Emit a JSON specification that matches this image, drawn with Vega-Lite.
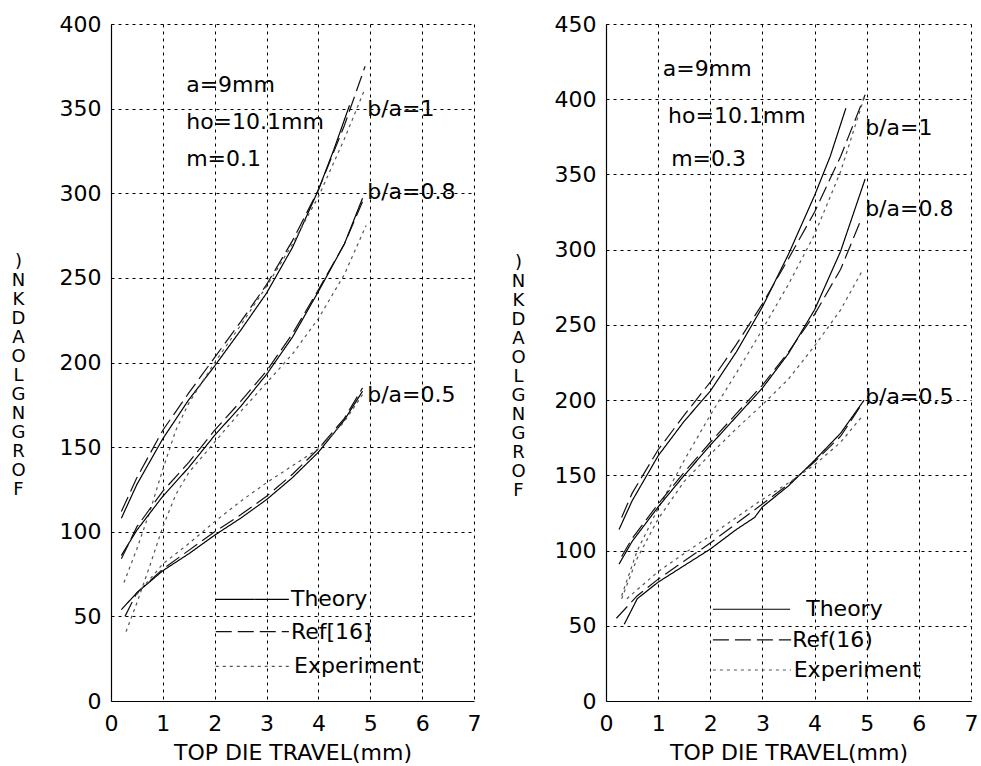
{
  "$schema": "https://vega.github.io/schema/vega-lite/v6.json",
  "padding": {"left": 10, "top": 13, "right": 5, "bottom": 5},
  "background": "white",
  "spacing": 29,
  "config": {
    "view": {"stroke": null},
    "font": "DejaVu Sans",
    "axis": {
      "domainColor": "black", "domainWidth": 1.2,
      "gridColor": "black", "gridDash": [3, 4], "gridOpacity": 1, "gridWidth": 1,
      "ticks": false, "labelColor": "black", "titleColor": "black",
      "labelFont": "DejaVu Sans", "titleFont": "DejaVu Sans",
      "labelFontSize": 22, "titleFontSize": 22, "titleFontWeight": "normal",
      "labelFlush": false, "labelOverlap": false
    },
    "text": {"font": "DejaVu Sans", "fontSize": 22, "color": "black"}
  },
  "datasets": {
    "curves": [
      {"p":"L","g":"1","s":"Theory","x":0.2,"y":108},{"p":"L","g":"1","s":"Theory","x":0.5,"y":128},{"p":"L","g":"1","s":"Theory","x":1.0,"y":155},{"p":"L","g":"1","s":"Theory","x":1.5,"y":178},{"p":"L","g":"1","s":"Theory","x":2.0,"y":198},{"p":"L","g":"1","s":"Theory","x":2.5,"y":219},{"p":"L","g":"1","s":"Theory","x":3.0,"y":241},{"p":"L","g":"1","s":"Theory","x":3.5,"y":268},{"p":"L","g":"1","s":"Theory","x":4.0,"y":302},{"p":"L","g":"1","s":"Theory","x":4.3,"y":326},{"p":"L","g":"1","s":"Theory","x":4.6,"y":352},
      {"p":"L","g":"1","s":"Ref","x":0.2,"y":112},{"p":"L","g":"1","s":"Ref","x":0.5,"y":132},{"p":"L","g":"1","s":"Ref","x":1.0,"y":160},{"p":"L","g":"1","s":"Ref","x":1.5,"y":182},{"p":"L","g":"1","s":"Ref","x":2.0,"y":203},{"p":"L","g":"1","s":"Ref","x":2.5,"y":224},{"p":"L","g":"1","s":"Ref","x":3.0,"y":246},{"p":"L","g":"1","s":"Ref","x":3.5,"y":272},{"p":"L","g":"1","s":"Ref","x":4.0,"y":302},{"p":"L","g":"1","s":"Ref","x":4.5,"y":340},{"p":"L","g":"1","s":"Ref","x":4.9,"y":375},
      {"p":"L","g":"1","s":"Experiment","x":0.25,"y":70},{"p":"L","g":"1","s":"Experiment","x":0.5,"y":90},{"p":"L","g":"1","s":"Experiment","x":0.75,"y":112},{"p":"L","g":"1","s":"Experiment","x":1.0,"y":137},{"p":"L","g":"1","s":"Experiment","x":1.25,"y":160},{"p":"L","g":"1","s":"Experiment","x":1.5,"y":176},{"p":"L","g":"1","s":"Experiment","x":2.0,"y":200},{"p":"L","g":"1","s":"Experiment","x":2.5,"y":222},{"p":"L","g":"1","s":"Experiment","x":3.0,"y":245},{"p":"L","g":"1","s":"Experiment","x":3.5,"y":270},{"p":"L","g":"1","s":"Experiment","x":4.0,"y":298},{"p":"L","g":"1","s":"Experiment","x":4.5,"y":332},{"p":"L","g":"1","s":"Experiment","x":4.9,"y":362},
      {"p":"L","g":"0.8","s":"Theory","x":0.2,"y":86},{"p":"L","g":"0.8","s":"Theory","x":0.5,"y":101},{"p":"L","g":"0.8","s":"Theory","x":1.0,"y":121},{"p":"L","g":"0.8","s":"Theory","x":1.5,"y":138},{"p":"L","g":"0.8","s":"Theory","x":2.0,"y":157},{"p":"L","g":"0.8","s":"Theory","x":2.5,"y":174},{"p":"L","g":"0.8","s":"Theory","x":3.0,"y":193},{"p":"L","g":"0.8","s":"Theory","x":3.5,"y":215},{"p":"L","g":"0.8","s":"Theory","x":4.0,"y":242},{"p":"L","g":"0.8","s":"Theory","x":4.5,"y":270},{"p":"L","g":"0.8","s":"Theory","x":4.85,"y":297},
      {"p":"L","g":"0.8","s":"Ref","x":0.2,"y":84},{"p":"L","g":"0.8","s":"Ref","x":0.5,"y":103},{"p":"L","g":"0.8","s":"Ref","x":1.0,"y":124},{"p":"L","g":"0.8","s":"Ref","x":1.5,"y":141},{"p":"L","g":"0.8","s":"Ref","x":2.0,"y":160},{"p":"L","g":"0.8","s":"Ref","x":2.5,"y":177},{"p":"L","g":"0.8","s":"Ref","x":3.0,"y":195},{"p":"L","g":"0.8","s":"Ref","x":3.5,"y":217},{"p":"L","g":"0.8","s":"Ref","x":4.0,"y":243},{"p":"L","g":"0.8","s":"Ref","x":4.5,"y":270},{"p":"L","g":"0.8","s":"Ref","x":4.85,"y":295},
      {"p":"L","g":"0.8","s":"Experiment","x":0.29,"y":41},{"p":"L","g":"0.8","s":"Experiment","x":0.5,"y":58},{"p":"L","g":"0.8","s":"Experiment","x":0.75,"y":80},{"p":"L","g":"0.8","s":"Experiment","x":1.0,"y":103},{"p":"L","g":"0.8","s":"Experiment","x":1.25,"y":122},{"p":"L","g":"0.8","s":"Experiment","x":1.5,"y":135},{"p":"L","g":"0.8","s":"Experiment","x":2.0,"y":153},{"p":"L","g":"0.8","s":"Experiment","x":2.5,"y":171},{"p":"L","g":"0.8","s":"Experiment","x":3.0,"y":188},{"p":"L","g":"0.8","s":"Experiment","x":3.5,"y":205},{"p":"L","g":"0.8","s":"Experiment","x":4.0,"y":226},{"p":"L","g":"0.8","s":"Experiment","x":4.5,"y":252},{"p":"L","g":"0.8","s":"Experiment","x":4.92,"y":281},
      {"p":"L","g":"0.5","s":"Theory","x":0.2,"y":54},{"p":"L","g":"0.5","s":"Theory","x":0.5,"y":64},{"p":"L","g":"0.5","s":"Theory","x":1.0,"y":77},{"p":"L","g":"0.5","s":"Theory","x":1.5,"y":87},{"p":"L","g":"0.5","s":"Theory","x":2.0,"y":98},{"p":"L","g":"0.5","s":"Theory","x":2.5,"y":108},{"p":"L","g":"0.5","s":"Theory","x":3.0,"y":119},{"p":"L","g":"0.5","s":"Theory","x":3.5,"y":132},{"p":"L","g":"0.5","s":"Theory","x":4.0,"y":147},{"p":"L","g":"0.5","s":"Theory","x":4.5,"y":166},{"p":"L","g":"0.5","s":"Theory","x":4.85,"y":183},
      {"p":"L","g":"0.5","s":"Ref","x":0.27,"y":50},{"p":"L","g":"0.5","s":"Ref","x":0.5,"y":64},{"p":"L","g":"0.5","s":"Ref","x":1.0,"y":78},{"p":"L","g":"0.5","s":"Ref","x":1.5,"y":89},{"p":"L","g":"0.5","s":"Ref","x":2.0,"y":100},{"p":"L","g":"0.5","s":"Ref","x":2.5,"y":110},{"p":"L","g":"0.5","s":"Ref","x":3.0,"y":121},{"p":"L","g":"0.5","s":"Ref","x":3.5,"y":134},{"p":"L","g":"0.5","s":"Ref","x":4.0,"y":149},{"p":"L","g":"0.5","s":"Ref","x":4.5,"y":167},{"p":"L","g":"0.5","s":"Ref","x":4.85,"y":185},
      {"p":"L","g":"0.5","s":"Experiment","x":0.5,"y":63},{"p":"L","g":"0.5","s":"Experiment","x":1.0,"y":81},{"p":"L","g":"0.5","s":"Experiment","x":1.5,"y":93},{"p":"L","g":"0.5","s":"Experiment","x":2.0,"y":106},{"p":"L","g":"0.5","s":"Experiment","x":2.5,"y":118},{"p":"L","g":"0.5","s":"Experiment","x":3.0,"y":129},{"p":"L","g":"0.5","s":"Experiment","x":3.5,"y":139},{"p":"L","g":"0.5","s":"Experiment","x":4.0,"y":149},{"p":"L","g":"0.5","s":"Experiment","x":4.5,"y":165},{"p":"L","g":"0.5","s":"Experiment","x":4.85,"y":181},
      {"p":"R","g":"1","s":"Theory","x":0.25,"y":114},{"p":"R","g":"1","s":"Theory","x":0.5,"y":133},{"p":"R","g":"1","s":"Theory","x":1.0,"y":163},{"p":"R","g":"1","s":"Theory","x":1.5,"y":186},{"p":"R","g":"1","s":"Theory","x":2.0,"y":206},{"p":"R","g":"1","s":"Theory","x":2.5,"y":232},{"p":"R","g":"1","s":"Theory","x":3.0,"y":262},{"p":"R","g":"1","s":"Theory","x":3.5,"y":297},{"p":"R","g":"1","s":"Theory","x":4.0,"y":336},{"p":"R","g":"1","s":"Theory","x":4.3,"y":362},{"p":"R","g":"1","s":"Theory","x":4.6,"y":394},
      {"p":"R","g":"1","s":"Ref","x":0.3,"y":122},{"p":"R","g":"1","s":"Ref","x":0.5,"y":138},{"p":"R","g":"1","s":"Ref","x":1.0,"y":167},{"p":"R","g":"1","s":"Ref","x":1.5,"y":190},{"p":"R","g":"1","s":"Ref","x":2.0,"y":212},{"p":"R","g":"1","s":"Ref","x":2.5,"y":237},{"p":"R","g":"1","s":"Ref","x":3.0,"y":264},{"p":"R","g":"1","s":"Ref","x":3.5,"y":294},{"p":"R","g":"1","s":"Ref","x":4.0,"y":325},{"p":"R","g":"1","s":"Ref","x":4.5,"y":362},{"p":"R","g":"1","s":"Ref","x":4.97,"y":403},
      {"p":"R","g":"1","s":"Experiment","x":0.3,"y":70},{"p":"R","g":"1","s":"Experiment","x":0.6,"y":100},{"p":"R","g":"1","s":"Experiment","x":1.0,"y":128},{"p":"R","g":"1","s":"Experiment","x":1.5,"y":160},{"p":"R","g":"1","s":"Experiment","x":2.0,"y":190},{"p":"R","g":"1","s":"Experiment","x":2.5,"y":218},{"p":"R","g":"1","s":"Experiment","x":3.0,"y":247},{"p":"R","g":"1","s":"Experiment","x":3.5,"y":277},{"p":"R","g":"1","s":"Experiment","x":4.0,"y":310},{"p":"R","g":"1","s":"Experiment","x":4.5,"y":352},{"p":"R","g":"1","s":"Experiment","x":4.95,"y":401},
      {"p":"R","g":"0.8","s":"Theory","x":0.25,"y":91},{"p":"R","g":"0.8","s":"Theory","x":0.5,"y":106},{"p":"R","g":"0.8","s":"Theory","x":1.0,"y":129},{"p":"R","g":"0.8","s":"Theory","x":1.5,"y":150},{"p":"R","g":"0.8","s":"Theory","x":2.0,"y":170},{"p":"R","g":"0.8","s":"Theory","x":2.5,"y":189},{"p":"R","g":"0.8","s":"Theory","x":3.0,"y":208},{"p":"R","g":"0.8","s":"Theory","x":3.5,"y":231},{"p":"R","g":"0.8","s":"Theory","x":4.0,"y":260},{"p":"R","g":"0.8","s":"Theory","x":4.5,"y":299},{"p":"R","g":"0.8","s":"Theory","x":4.97,"y":347},
      {"p":"R","g":"0.8","s":"Ref","x":0.3,"y":96},{"p":"R","g":"0.8","s":"Ref","x":0.5,"y":108},{"p":"R","g":"0.8","s":"Ref","x":1.0,"y":131},{"p":"R","g":"0.8","s":"Ref","x":1.5,"y":152},{"p":"R","g":"0.8","s":"Ref","x":2.0,"y":172},{"p":"R","g":"0.8","s":"Ref","x":2.5,"y":191},{"p":"R","g":"0.8","s":"Ref","x":3.0,"y":210},{"p":"R","g":"0.8","s":"Ref","x":3.5,"y":232},{"p":"R","g":"0.8","s":"Ref","x":4.0,"y":257},{"p":"R","g":"0.8","s":"Ref","x":4.5,"y":287},{"p":"R","g":"0.8","s":"Ref","x":4.88,"y":319},
      {"p":"R","g":"0.8","s":"Experiment","x":0.3,"y":68},{"p":"R","g":"0.8","s":"Experiment","x":0.6,"y":95},{"p":"R","g":"0.8","s":"Experiment","x":1.0,"y":121},{"p":"R","g":"0.8","s":"Experiment","x":1.5,"y":146},{"p":"R","g":"0.8","s":"Experiment","x":2.0,"y":164},{"p":"R","g":"0.8","s":"Experiment","x":2.5,"y":181},{"p":"R","g":"0.8","s":"Experiment","x":3.0,"y":197},{"p":"R","g":"0.8","s":"Experiment","x":3.5,"y":214},{"p":"R","g":"0.8","s":"Experiment","x":4.0,"y":236},{"p":"R","g":"0.8","s":"Experiment","x":4.5,"y":260},{"p":"R","g":"0.8","s":"Experiment","x":4.93,"y":287},
      {"p":"R","g":"0.5","s":"Theory","x":0.35,"y":51},{"p":"R","g":"0.5","s":"Theory","x":0.6,"y":68},{"p":"R","g":"0.5","s":"Theory","x":1.0,"y":79},{"p":"R","g":"0.5","s":"Theory","x":1.5,"y":90},{"p":"R","g":"0.5","s":"Theory","x":2.0,"y":101},{"p":"R","g":"0.5","s":"Theory","x":2.5,"y":114},{"p":"R","g":"0.5","s":"Theory","x":2.85,"y":122},{"p":"R","g":"0.5","s":"Theory","x":3.0,"y":129},{"p":"R","g":"0.5","s":"Theory","x":3.5,"y":143},{"p":"R","g":"0.5","s":"Theory","x":4.0,"y":160},{"p":"R","g":"0.5","s":"Theory","x":4.5,"y":178},{"p":"R","g":"0.5","s":"Theory","x":4.95,"y":200},
      {"p":"R","g":"0.5","s":"Ref","x":0.2,"y":55},{"p":"R","g":"0.5","s":"Ref","x":0.6,"y":70},{"p":"R","g":"0.5","s":"Ref","x":1.0,"y":81},{"p":"R","g":"0.5","s":"Ref","x":1.5,"y":93},{"p":"R","g":"0.5","s":"Ref","x":2.0,"y":105},{"p":"R","g":"0.5","s":"Ref","x":2.5,"y":118},{"p":"R","g":"0.5","s":"Ref","x":3.0,"y":131},{"p":"R","g":"0.5","s":"Ref","x":3.5,"y":144},{"p":"R","g":"0.5","s":"Ref","x":4.0,"y":159},{"p":"R","g":"0.5","s":"Ref","x":4.5,"y":176},{"p":"R","g":"0.5","s":"Ref","x":4.9,"y":197},
      {"p":"R","g":"0.5","s":"Experiment","x":0.4,"y":68},{"p":"R","g":"0.5","s":"Experiment","x":1.0,"y":86},{"p":"R","g":"0.5","s":"Experiment","x":1.5,"y":98},{"p":"R","g":"0.5","s":"Experiment","x":2.0,"y":110},{"p":"R","g":"0.5","s":"Experiment","x":2.5,"y":122},{"p":"R","g":"0.5","s":"Experiment","x":3.0,"y":134},{"p":"R","g":"0.5","s":"Experiment","x":3.5,"y":145},{"p":"R","g":"0.5","s":"Experiment","x":4.0,"y":157},{"p":"R","g":"0.5","s":"Experiment","x":4.5,"y":172},{"p":"R","g":"0.5","s":"Experiment","x":4.93,"y":190}
    ],
    "legend": [
      {"p":"L","s":"Theory","x1":2.02,"x2":3.43,"y":60,"lx":3.47,"t":"Theory"},
      {"p":"L","s":"Ref","x1":2.02,"x2":3.43,"y":41,"lx":3.47,"t":"Ref[16]"},
      {"p":"L","s":"Experiment","x1":2.02,"x2":3.5,"y":20.5,"lx":3.53,"t":"Experiment"},
      {"p":"R","s":"Theory","x1":2.05,"x2":3.53,"y":61,"lx":3.84,"t":"Theory"},
      {"p":"R","s":"Ref","x1":2.05,"x2":3.55,"y":40.6,"lx":3.57,"t":"Ref(16)"},
      {"p":"R","s":"Experiment","x1":2.05,"x2":3.55,"y":20.6,"lx":3.6,"t":"Experiment"}
    ],
    "ann": [
      {"p":"L","x":1.45,"y":364,"t":"a=9mm"},
      {"p":"L","x":1.45,"y":342,"t":"ho=10.1mm"},
      {"p":"L","x":1.45,"y":320,"t":"m=0.1"},
      {"p":"L","x":4.94,"y":350,"t":"b/a=1"},
      {"p":"L","x":4.94,"y":300.7,"t":"b/a=0.8"},
      {"p":"L","x":4.94,"y":181,"t":"b/a=0.5"},
      {"p":"R","x":1.09,"y":420,"t":"a=9mm"},
      {"p":"R","x":1.19,"y":389,"t":"ho=10.1mm"},
      {"p":"R","x":1.25,"y":360,"t":"m=0.3"},
      {"p":"R","x":4.97,"y":381,"t":"b/a=1"},
      {"p":"R","x":4.97,"y":327,"t":"b/a=0.8"},
      {"p":"R","x":4.97,"y":202,"t":"b/a=0.5"}
    ]
  },
  "hconcat": [
    {
      "width": 363, "height": 677,
      "layer": [
        {
          "data": {"name": "curves"},
          "transform": [{"filter": "datum.p === 'L'"}],
          "mark": {"type": "line", "strokeWidth": 1.2},
          "encoding": {
            "x": {"field": "x", "type": "quantitative", "scale": {"domain": [0, 7], "nice": false},
                  "axis": {"values": [0,1,2,3,4,5,6,7], "format": "d", "title": "TOP DIE TRAVEL(mm)", "labelPadding": 12, "titlePadding": 8}},
            "y": {"field": "y", "type": "quantitative", "scale": {"domain": [0, 400], "nice": false},
                  "axis": {"values": [0,50,100,150,200,250,300,350,400], "format": "d", "labelPadding": 10,
                           "title": [")","N","K","D","A","O","L","G","N","G","R","O","F"],
                           "titleAngle": 0, "titleAlign": "center", "titleBaseline": "middle",
                           "titleFontSize": 18, "titleLineHeight": 19, "titleX": -93, "titleY": 237}},
            "detail": {"field": "g"},
            "strokeDash": {"field": "s", "type": "nominal", "legend": null,
                           "scale": {"domain": ["Theory","Ref","Experiment"], "range": [[1,0],[16,6],[3,4]]}},
            "color": {"field": "s", "type": "nominal", "legend": null,
                      "scale": {"domain": ["Theory","Ref","Experiment"], "range": ["#000000","#111111","#555555"]}}
          }
        },
        {
          "data": {"name": "legend"},
          "transform": [{"filter": "datum.p === 'L'"}],
          "mark": {"type": "rule", "strokeWidth": 1.2},
          "encoding": {
            "x": {"field": "x1", "type": "quantitative"},
            "x2": {"field": "x2"},
            "y": {"field": "y", "type": "quantitative"},
            "strokeDash": {"field": "s", "type": "nominal", "legend": null,
                           "scale": {"domain": ["Theory","Ref","Experiment"], "range": [[1,0],[16,6],[3,4]]}},
            "color": {"field": "s", "type": "nominal", "legend": null,
                      "scale": {"domain": ["Theory","Ref","Experiment"], "range": ["#000000","#111111","#555555"]}}
          }
        },
        {
          "data": {"name": "legend"},
          "transform": [{"filter": "datum.p === 'L'"}],
          "mark": {"type": "text", "align": "left", "baseline": "middle"},
          "encoding": {
            "x": {"field": "lx", "type": "quantitative"},
            "y": {"field": "y", "type": "quantitative"},
            "text": {"field": "t"}
          }
        },
        {
          "data": {"name": "ann"},
          "transform": [{"filter": "datum.p === 'L'"}],
          "mark": {"type": "text", "align": "left", "baseline": "middle"},
          "encoding": {
            "x": {"field": "x", "type": "quantitative"},
            "y": {"field": "y", "type": "quantitative"},
            "text": {"field": "t"}
          }
        }
      ]
    },
    {
      "width": 365, "height": 677,
      "layer": [
        {
          "data": {"name": "curves"},
          "transform": [{"filter": "datum.p === 'R'"}],
          "mark": {"type": "line", "strokeWidth": 1.2},
          "encoding": {
            "x": {"field": "x", "type": "quantitative", "scale": {"domain": [0, 7], "nice": false},
                  "axis": {"values": [0,1,2,3,4,5,6,7], "format": "d", "title": "TOP DIE TRAVEL(mm)", "labelPadding": 12, "titlePadding": 8}},
            "y": {"field": "y", "type": "quantitative", "scale": {"domain": [0, 450], "nice": false},
                  "axis": {"values": [0,50,100,150,200,250,300,350,400,450], "format": "d", "labelPadding": 10,
                           "title": [")","N","K","D","A","O","L","G","N","G","R","O","F"],
                           "titleAngle": 0, "titleAlign": "center", "titleBaseline": "middle",
                           "titleFontSize": 18, "titleLineHeight": 19, "titleX": -88, "titleY": 238}},
            "detail": {"field": "g"},
            "strokeDash": {"field": "s", "type": "nominal", "legend": null,
                           "scale": {"domain": ["Theory","Ref","Experiment"], "range": [[1,0],[16,6],[3,4]]}},
            "color": {"field": "s", "type": "nominal", "legend": null,
                      "scale": {"domain": ["Theory","Ref","Experiment"], "range": ["#000000","#111111","#555555"]}}
          }
        },
        {
          "data": {"name": "legend"},
          "transform": [{"filter": "datum.p === 'R'"}],
          "mark": {"type": "rule", "strokeWidth": 1.2},
          "encoding": {
            "x": {"field": "x1", "type": "quantitative"},
            "x2": {"field": "x2"},
            "y": {"field": "y", "type": "quantitative"},
            "strokeDash": {"field": "s", "type": "nominal", "legend": null,
                           "scale": {"domain": ["Theory","Ref","Experiment"], "range": [[1,0],[16,6],[3,4]]}},
            "color": {"field": "s", "type": "nominal", "legend": null,
                      "scale": {"domain": ["Theory","Ref","Experiment"], "range": ["#000000","#111111","#555555"]}}
          }
        },
        {
          "data": {"name": "legend"},
          "transform": [{"filter": "datum.p === 'R'"}],
          "mark": {"type": "text", "align": "left", "baseline": "middle"},
          "encoding": {
            "x": {"field": "lx", "type": "quantitative"},
            "y": {"field": "y", "type": "quantitative"},
            "text": {"field": "t"}
          }
        },
        {
          "data": {"name": "ann"},
          "transform": [{"filter": "datum.p === 'R'"}],
          "mark": {"type": "text", "align": "left", "baseline": "middle"},
          "encoding": {
            "x": {"field": "x", "type": "quantitative"},
            "y": {"field": "y", "type": "quantitative"},
            "text": {"field": "t"}
          }
        }
      ]
    }
  ]
}
